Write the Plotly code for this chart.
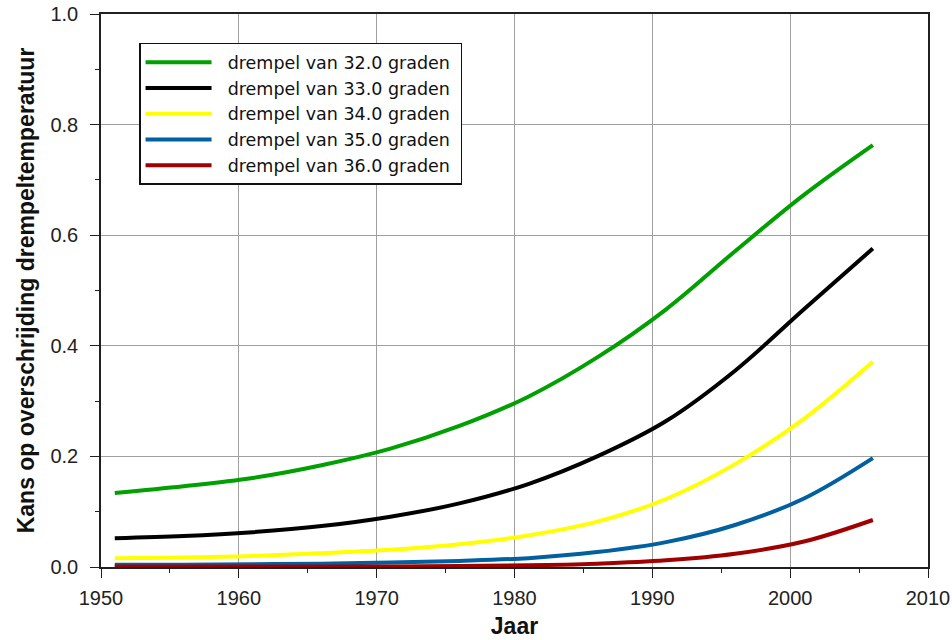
import plotly.graph_objects as go

years = [1951, 1956, 1961, 1966, 1971, 1976, 1981, 1986, 1991, 1996, 2001, 2006]
p32 = [0.134, 0.146, 0.161, 0.184, 0.214, 0.255, 0.308, 0.379, 0.466, 0.571, 0.673, 0.763]
p33 = [0.052, 0.056, 0.063, 0.074, 0.091, 0.115, 0.150, 0.200, 0.264, 0.355, 0.466, 0.576]
p34 = [0.016, 0.017, 0.020, 0.025, 0.031, 0.041, 0.057, 0.082, 0.123, 0.186, 0.268, 0.371]
p35 = [0.004, 0.004, 0.005, 0.006, 0.008, 0.011, 0.016, 0.027, 0.045, 0.076, 0.124, 0.197]
p36 = [0.001, 0.001, 0.001, 0.001, 0.001, 0.002, 0.003, 0.006, 0.012, 0.024, 0.046, 0.085]

names = ["drempel van 32.0 graden", "drempel van 33.0 graden", "drempel van 34.0 graden",
         "drempel van 35.0 graden", "drempel van 36.0 graden"]
series = [p32, p33, p34, p35, p36]
colors = ["#00a000", "#000000", "#ffff00", "#0060a0", "#a00000"]

fig = go.Figure()
for n, s, c in zip(names, series, colors):
    fig.add_trace(go.Scatter(x=years, y=s, name="\u00a0\u00a0" + n + "\u00a0", mode="lines",
                             line=dict(color=c, width=4, shape="spline", smoothing=1.0)))

font = "Liberation Sans, Arial, sans-serif"
axcommon = dict(showgrid=True, gridcolor="#a0a0a0", gridwidth=1, zeroline=False,
                showline=True, linecolor="#202020", linewidth=1.5, mirror=True,
                ticks="outside", ticklen=9, tickcolor="#202020", tickwidth=1,
                automargin=False,
                tickfont=dict(family=font, size=20, color="#222"))
fig.update_xaxes(range=[1950, 2010], dtick=10, tick0=1950, ticklabelstandoff=3,
                 minor=dict(ticks="outside", dtick=5, ticklen=4, tickcolor="#202020", showgrid=False),
                 title=dict(text="<b>Jaar</b>", font=dict(family=font, size=23, color="#111"), standoff=10),
                 **axcommon)
fig.update_yaxes(range=[0, 1.0], dtick=0.2, tickformat=".1f", ticklabelstandoff=8,
                 minor=dict(ticks="outside", dtick=0.1, ticklen=4, tickcolor="#202020", showgrid=False),
                 title=dict(text="<b>Kans op overschrijding drempeltemperatuur</b>",
                            font=dict(family=font, size=23, color="#111"), standoff=9),
                 **axcommon)

fig.update_layout(
    width=952, height=640,
    margin=dict(l=101, r=24, t=14, b=73),
    plot_bgcolor="white", paper_bgcolor="white",
    font=dict(family=font, size=20, color="#111"),
    legend=dict(x=0.046, y=0.948, xanchor="left", yanchor="top",
                bgcolor="white", bordercolor="#111", borderwidth=1.5,
                font=dict(family="DejaVu Sans, sans-serif", size=17.5, color="#111"),
                itemwidth=66, tracegroupgap=0),
    showlegend=True,
)
fig.write_html("out.html", config={"displayModeBar": False},
               post_script="document.body.style.margin='0';document.body.style.overflow='hidden';")
